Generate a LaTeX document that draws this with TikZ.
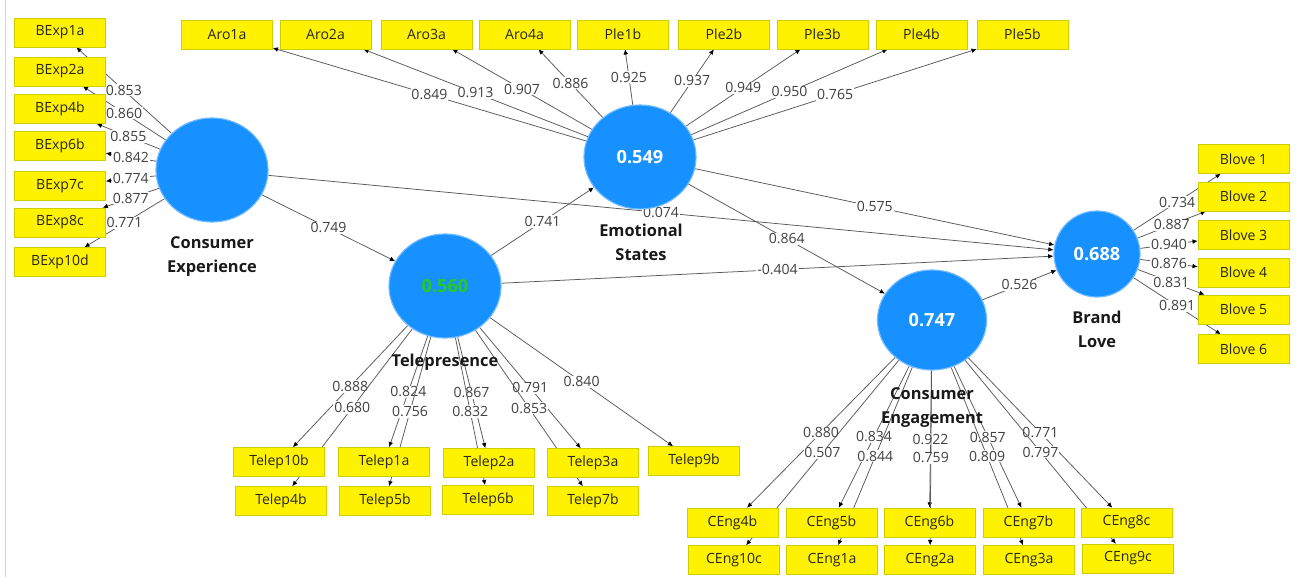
\documentclass[tikz,border=0pt]{standalone}
\usepackage{fontspec}
\setmainfont{Open Sans}
\usetikzlibrary{arrows.meta,backgrounds,shapes.geometric}
\definecolor{plsblue}{RGB}{22,145,255}
\definecolor{plsedge}{RGB}{110,185,255}
\definecolor{plsgreen}{RGB}{40,200,40}
\definecolor{boxedge}{RGB}{205,205,0}
\definecolor{frameline}{RGB}{208,208,230}
\tikzset{indicator/.style={draw=boxedge, fill=yellow, minimum width=27.3mm, minimum height=8.7mm,
   inner sep=0pt, text=black!85, font=\fontsize{12}{13}\selectfont},
 latent/.style={ellipse, fill=plsblue, draw=plsedge, line width=1pt, minimum width=33.6mm,
   minimum height=31.2mm, inner sep=0pt, text=white, font=\bfseries\fontsize{15.5}{18}\selectfont},
 small latent/.style={latent, minimum width=25.8mm, minimum height=25.8mm},
 lvname/.style={font=\bfseries\fontsize{14}{20.5}\selectfont, align=center, text=black!90},
 coef/.style={fill=white, inner sep=0.8pt, text=black!75, font=\fontsize{12}{13}\selectfont},
 link/.style={draw=black!65, line width=0.65pt, -{Latex[length=4.5pt,width=4pt,color=black]}},
 }

\begin{document}
\begin{tikzpicture}[x=0.3mm,y=-0.3mm]
    \useasboundingbox (0,0) rectangle (1299,577);
    \draw[frameline, line width=0.8pt] (5.5,0) -- (5.5,577);

    % latent variables
    \node[latent] (CE) at (212,170) {};
    \node[latent] (ES) at (640,157) {0.549};
    \node[latent, text=plsgreen] (TP) at (445,286) {0.560};
    \node[latent, minimum width=32.7mm, minimum height=30mm] (CEng) at (932,320) {0.747};
    \node[small latent] (BL) at (1097,254) {0.688};
    \node[lvname] (CElab) at (212,256.5) {Consumer\\Experience};
    \node[lvname] (ESlab) at (641,242.5) {Emotional\\States};
    \node[lvname] (TPlab) at (445,362) {Telepresence};
    \node[lvname] (CEnglab) at (932,407.5) {Consumer\\Engagement};
    \node[lvname] (BLlab) at (1097,329.5) {Brand\\Love};

    % indicators
    \foreach \n/\y in {BExp1a/32.5, BExp2a/71.5, BExp4b/109, BExp6b/146, BExp7c/186, BExp8c/222.5, BExp10d/262}
        \node[indicator] (\n) at (60,\y) {\n};
    \foreach \n/\x in {Aro1a/227, Aro2a/325.5, Aro3a/426.5, Aro4a/524.5, Ple1b/623, Ple2b/724, Ple3b/822.5, Ple4b/921.5, Ple5b/1022.5}
        \node[indicator] (\n) at (\x,34.5) {\n};
    \foreach \n/\x/\y in {Telep10b/279/462, Telep4b/281/501, Telep1a/384/462, Telep5b/385/501, Telep2a/489/463,
        Telep6b/488/500, Telep3a/593/463, Telep7b/593/501, Telep9b/694/461}
        \node[indicator] (\n) at (\x,\y) {\n};
    \foreach \n/\x/\y in {CEng4b/732.5/522.5, CEng10c/734/560, CEng5b/831.5/522.5, CEng1a/832/560, CEng6b/929.5/522.5,
        CEng2a/930/560, CEng7b/1028.5/522.5, CEng3a/1029/560, CEng8c/1126.5/522.5, CEng9c/1128/558.5}
        \node[indicator] (\n) at (\x,\y) {\n};
    \foreach \i/\y in {1/159, 2/196.5, 3/235, 4/272.5, 5/309.5, 6/349}
        \node[indicator] (Blove\i) at (1243.5,\y) {Blove \i};

    \begin{pgfonlayer}{background}
    % inner model
    \draw[link] (CE) -- node[coef] {0.749} (TP);
    \draw[link] (CE) -- node[coef] {0.074} (BL);
    \draw[link] (TP) -- node[coef] {0.741} (ES);
    \draw[link] (ES) -- node[coef] {0.575} (BL);
    \draw[link] (ES) -- node[coef] {0.864} (CEng);
    \draw[link] (TP) -- node[coef] {-0.404} (BL);
    \draw[link] (CEng) -- node[coef] {0.526} (BL);

    % outer loadings
    \foreach \n/\v in {BExp1a/0.853, BExp2a/0.860, BExp4b/0.855, BExp6b/0.842, BExp7c/0.774, BExp8c/0.877, BExp10d/0.771}
        \draw[link] (CE) -- node[coef] {\v} (\n);
    \foreach \n/\v in {Aro1a/0.849, Aro2a/0.913, Aro3a/0.907, Aro4a/0.886, Ple1b/0.925, Ple2b/0.937, Ple3b/0.949, Ple4b/0.950, Ple5b/0.765}
        \draw[link] (ES) -- node[coef] {\v} (\n);
    \foreach \n/\v in {Telep10b/0.888, Telep4b/0.680, Telep1a/0.824, Telep5b/0.756, Telep2a/0.867, Telep6b/0.832,
        Telep3a/0.791, Telep7b/0.853, Telep9b/0.840}
        \draw[link] (TP) -- node[coef] {\v} (\n);
    \foreach \n/\v in {CEng4b/0.880, CEng10c/0.507, CEng5b/0.834, CEng1a/0.844, CEng6b/0.922, CEng2a/0.759,
        CEng7b/0.857, CEng3a/0.809, CEng8c/0.771, CEng9c/0.797}
        \draw[link] (CEng) -- node[coef] {\v} (\n);
    \foreach \i/\v in {1/0.734, 2/0.887, 3/0.940, 4/0.876, 5/0.831, 6/0.891}
        \draw[link] (BL) -- node[coef] {\v} (Blove\i);
    \end{pgfonlayer}
\end{tikzpicture}
\end{document}
